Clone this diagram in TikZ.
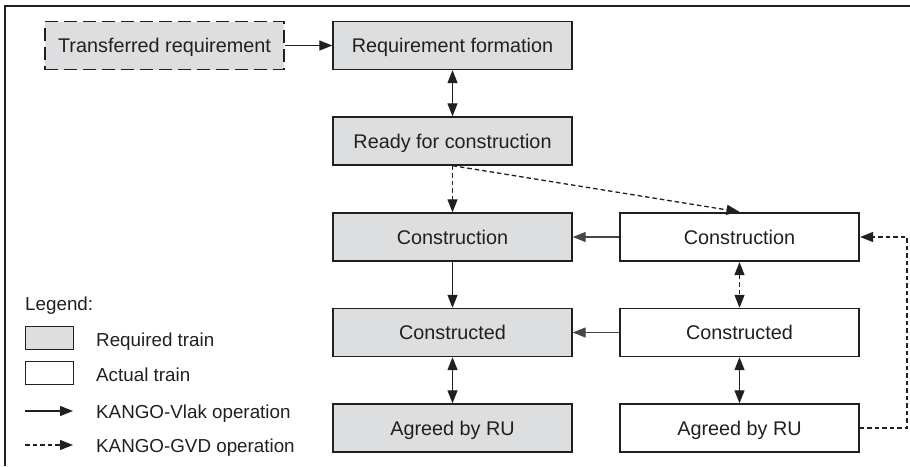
\documentclass[tikz,border=0pt]{standalone}
\usepackage{fontspec}
\setmainfont{Liberation Sans}
\usetikzlibrary{arrows.meta}
\definecolor{boxgray}{RGB}{221,222,224}
\definecolor{ink}{RGB}{35,31,32}
\definecolor{lineg}{RGB}{70,70,70}
\begin{document}
\begin{tikzpicture}[x=1pt,y=-1pt,
  every node/.style={font=\fontsize{19.8}{22}\selectfont, text=ink, text height=14pt, text depth=0pt},
  box/.style={draw=ink, line width=1.4pt, minimum width=239pt, minimum height=48pt, inner sep=0pt, anchor=center},
  reqbox/.style={box, fill=boxgray},
  actbox/.style={box, fill=white},
  legbox/.style={draw=ink, line width=1.4pt, minimum width=48pt, minimum height=23pt, inner sep=0pt, anchor=north west},
  legtext/.style={anchor=west, inner sep=0pt, font=\fontsize{18.8}{22}\selectfont},
  conn/.style={draw=ink, line width=1.3pt},
  tip/.style={conn, -{Triangle[length=13pt,width=10pt]}},
  dtip/.style={conn, {Triangle[length=13pt,width=10pt]}-{Triangle[length=13pt,width=10pt]}},
  gvd/.style={dash pattern=on 4.5pt off 3pt},
]
\useasboundingbox (0,0) rectangle (910,466);
% frame (only top and left edges visible)
\coordinate (fr1) at (910,6);
\coordinate (fr2) at (5,6);
\coordinate (fr3) at (5,466);
\draw[draw=ink, line width=1.8pt] (fr1) -- (fr2) -- (fr3);

% top boxes
\node[reqbox, dash pattern=on 13pt off 6pt] (trans) at (164.5,45.5) {Transferred requirement};
\node[reqbox] (reqf) at (452.5,45.5) {Requirement formation};
\node[reqbox] (ready) at (452.5,141) {Ready for construction};

% left column (required train)
\node[reqbox] (consL) at (452.5,237) {Construction};
\node[reqbox] (condL) at (452.5,332.5) {Constructed};
\node[reqbox] (agrL) at (452.5,428) {Agreed by RU};

% right column (actual train)
\node[actbox, line width=2.2pt] (consR) at (739.5,237) {Construction};
\node[actbox] (condR) at (739.5,332.5) {Constructed};
\node[actbox] (agrR) at (739.5,428) {Agreed by RU};

% connectors
\draw[tip] (trans.east) -- (reqf.west);
\draw[dtip] (reqf.south) -- (ready.north);
\draw[tip, gvd] (ready.south) -- (consL.north);
\draw[tip, gvd] (ready.south) -- (consR.north);
\draw[tip, draw=lineg] (consR.west) -- (consL.east);
\draw[tip, draw=lineg] (condR.west) -- (condL.east);
\draw[tip] (consL.south) -- (condL.north);
\draw[dtip] (condL.south) -- (agrL.north);
\draw[dtip, gvd] (consR.south) -- (condR.north);
\draw[dtip] (condR.south) -- (agrR.north);
\coordinate (fb1) at (907,428);
\coordinate (fb2) at (907,237);
\draw[tip, gvd] (agrR.east) -- (fb1) -- (fb2) -- (consR.east);

% legend
\node[legtext] (legend) at (25,303) {Legend:};
\node[legbox, fill=boxgray] (legreq) at (25,326) {};
\node[legtext] (legreqt) at (96,339) {Required train};
\node[legbox, fill=white] (legact) at (25,361) {};
\node[legtext] (legactt) at (96,374) {Actual train};
\coordinate (lv1) at (25,411);
\coordinate (lv2) at (73,411);
\draw[tip] (lv1) -- (lv2);
\node[legtext] (legvlak) at (96,411) {KANGO-Vlak operation};
\coordinate (lg1) at (25,445);
\coordinate (lg2) at (73,445);
\draw[tip, gvd] (lg1) -- (lg2);
\node[legtext] (leggvd) at (96,445) {KANGO-GVD operation};
\end{tikzpicture}
\end{document}
